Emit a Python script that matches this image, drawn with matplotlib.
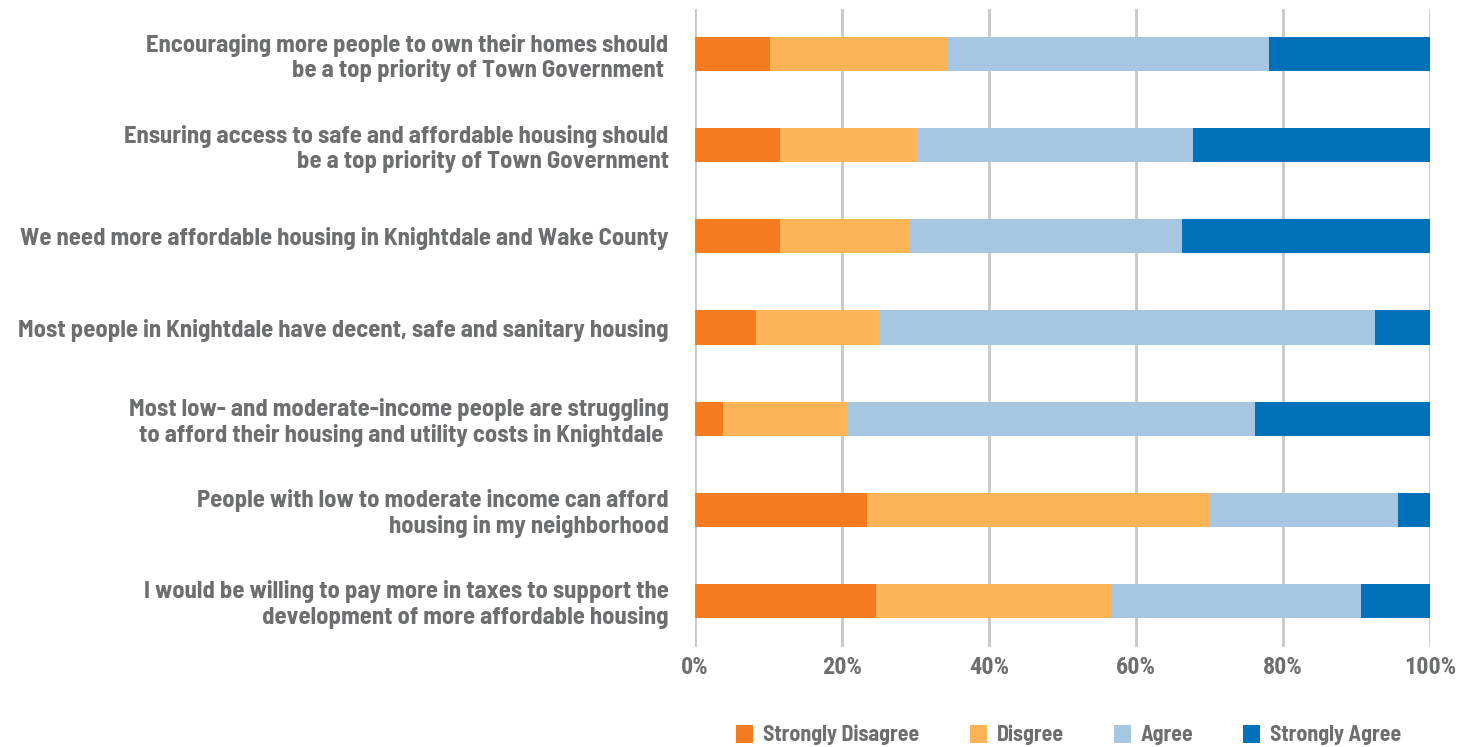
import matplotlib
matplotlib.use("Agg")
import matplotlib.pyplot as plt
from matplotlib import font_manager
from matplotlib.patches import Patch

categories = [
    "Encouraging more people to own their homes should\nbe a top priority of Town Government ",
    "Ensuring access to safe and affordable housing should\nbe a top priority of Town Government",
    "We need more affordable housing in Knightdale and Wake County",
    "Most people in Knightdale have decent, safe and sanitary housing",
    "Most low- and moderate-income people are struggling\nto afford their housing and utility costs in Knightdale ",
    "People with low to moderate income can afford\nhousing in my neighborhood",
    "I would be willing to pay more in taxes to support the\ndevelopment of more affordable housing",
]
strongly_disagree = [10.2, 11.6, 11.6, 8.3, 3.8, 23.4, 24.6]
disagree = [24.2, 18.8, 17.7, 16.7, 16.9, 46.7, 32.2]
agree = [43.7, 37.4, 36.9, 67.5, 55.5, 25.6, 33.8]
strongly_agree = [21.9, 32.2, 33.8, 7.5, 23.8, 4.3, 9.4]
series_names = ["Strongly Disagree", "Disgree", "Agree", "Strongly Agree"]
x_ticks = [0, 20, 40, 60, 80, 100]
x_tick_labels = ["0%", "20%", "40%", "60%", "80%", "100%"]

colors = ["#f47b20", "#fdb456", "#a6c6e2", "#0070b9"]
text_color = "#6d6e71"

names = {f.name for f in font_manager.fontManager.ttflist}
fam = ["DejaVu Sans"]
for cand in ["Barlow Semi Condensed", "Roboto Condensed", "DejaVu Sans"]:
    if cand in names:
        fam = [cand, "DejaVu Sans"]
        break
tick_fam = fam
tick_size = 18.5
if "Roboto Condensed" in names:
    tick_fam = ["Roboto Condensed", "DejaVu Sans"]
    tick_size = 17.5
plt.rcParams["font.family"] = fam

W, H = 1469, 747
fig = plt.figure(figsize=(W / 100, H / 100), dpi=100)
ax = fig.add_axes([695 / W, 1 - 646.5 / H, 735 / W, (646.5 - 8.5) / H])

y = list(range(len(categories)))
left = [0.0] * len(categories)
for vals, col, name in zip([strongly_disagree, disagree, agree, strongly_agree], colors, series_names):
    ax.barh(y, vals, left=left, height=0.375, color=col, label=name, zorder=3)
    left = [l + v for l, v in zip(left, vals)]

ax.set_xlim(0, 100)
ax.set_ylim(len(categories) - 0.5, -0.5)
ax.set_xticks(x_ticks)
ax.set_xticklabels(x_tick_labels, fontsize=tick_size, fontweight="bold", color=text_color,
                   family=tick_fam)
ax.set_yticks(y)
ax.set_yticklabels(categories, fontsize=17.8, fontweight="bold", color=text_color,
                   linespacing=1.15)
ax.tick_params(axis="y", length=0, pad=19)
ax.tick_params(axis="x", length=0, pad=7)
ax.grid(axis="x", color="#c8c8c8", linewidth=2, zorder=0)
for s in ax.spines.values():
    s.set_visible(False)

handles = [Patch(facecolor=c, edgecolor="none") for c in colors]
fig.legend(handles, series_names, loc="center", bbox_to_anchor=(1069 / W, 1 - 735 / H),
           ncol=4, frameon=False, handlelength=0.78, handleheight=0.9, handletextpad=0.45,
           columnspacing=2.3, prop={"size": 15.7, "weight": "bold", "family": fam},
           labelcolor=text_color)

fig.savefig("out.png", dpi=100)
